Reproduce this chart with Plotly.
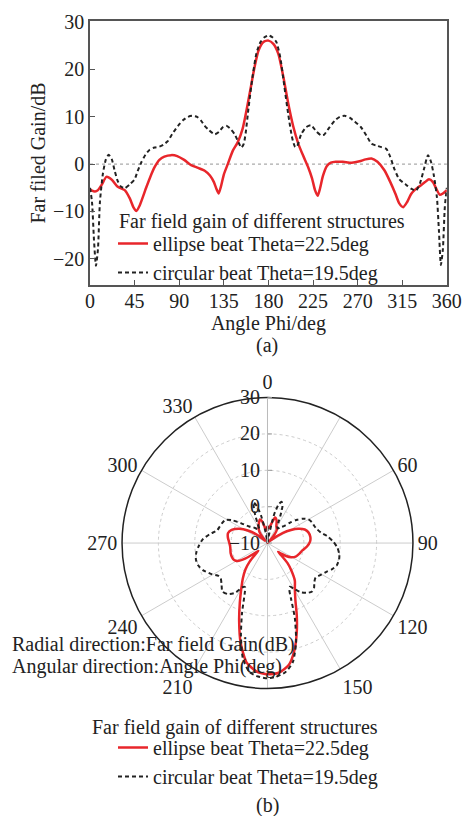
import plotly.graph_objects as go
import numpy as np

# ---- data ----
phi_ellipse = [0, 2, 5, 8, 12, 16.5, 22, 28, 35, 40, 44, 46.7, 50, 56.8, 61, 65, 70, 75, 82, 88, 95, 102,
               109, 115.7, 121, 125, 127.5, 129.8, 132, 135, 139, 144, 149, 154, 158, 162, 166, 170, 175,
               180, 185, 190, 195, 200, 205, 210, 215, 220, 224, 227, 229.7, 232, 235, 239, 243, 248, 255,
               264, 272, 278, 284, 290, 297, 303, 308, 312, 316, 320, 324, 328, 333, 338, 342, 346, 350,
               353, 356, 360]
gain_ellipse = [-5.3, -5.6, -5.8, -5.5, -4.3, -2.7, -3.3, -4.8, -5.5, -7.2, -9.2, -9.9, -8.8, -4.9, -2.6, -0.7,
                0.9, 1.6, 1.9, 1.7, 0.9, -0.2, -0.8, -1.4, -2.4, -3.8, -5.2, -6.2, -4.8, -2.2, 0.0, 2.8,
                4.6, 7.5, 11.5, 16.0, 20.5, 24.0, 25.8, 26.1, 25.4, 23.3, 18.5, 12.8, 8.0, 4.4, 1.8, -0.6,
                -3.0, -5.5, -6.7, -5.2, -2.5, -0.4, 0.3, 0.5, 0.5, 0.3, 0.6, 1.0, 1.2, 0.5, -1.3, -3.8,
                -6.2, -8.3, -9.1, -8.0, -6.3, -5.4, -4.6, -3.8, -3.2, -3.8, -5.5, -6.5, -6.2, -5.5]

phi_circular = [0, 2, 4, 6, 8, 10, 13, 16, 18.8, 22, 25, 28, 31, 35, 40, 45, 48, 51.8, 56, 60, 65, 70, 74,
                78.7, 83, 88.8, 94, 99, 103, 108, 112, 115.7, 120, 125.8, 130, 134, 137.5, 141, 146, 150,
                152.7, 155, 157, 160, 164, 168, 172, 176, 180, 184, 188, 192, 196, 200, 204, 207, 209,
                213, 218, 223, 228, 233, 236, 241, 247, 252, 257, 262, 267, 273, 279, 284, 289, 294, 299,
                303, 307, 312, 318, 324, 329, 333, 337, 341, 344, 347, 350, 352, 354, 356, 358, 360]
gain_circular = [-5.0, -8.0, -16.0, -21.5, -18.0, -8.0, -2.0, 1.0, 2.0, 1.0, -1.5, -3.6, -4.7, -5.1, -4.3,
                 -3.2, -1.5, 0.4, 2.0, 3.0, 3.5, 3.7, 4.1, 4.9, 6.4, 8.1, 9.3, 10.0, 10.2, 10.0, 9.2, 8.1,
                 7.2, 6.3, 6.8, 7.8, 8.1, 7.6, 6.3, 4.5, 3.5, 4.2, 6.5, 12.0, 18.5, 23.5, 25.8, 26.8,
                 27.2, 26.8, 25.8, 22.5, 16.5, 10.5, 5.5, 3.6, 3.8, 6.3, 7.8, 8.2, 7.0, 6.1, 6.2, 7.6, 9.2,
                 10.0, 10.2, 9.8, 9.0, 7.9, 6.0, 4.3, 3.9, 3.6, 3.2, 1.5, -1.0, -3.2, -4.2, -5.2, -5.6,
                 -4.0, -1.0, 1.9, 0.5, -2.5, -7.0, -14.0, -21.3, -18.0, -9.0, -5.0]

names = ["ellipse beat Theta=22.5deg", "circular beat Theta=19.5deg"]
legend_title = "Far field gain of different structures"
x_ticks = list(range(0, 361, 45))
y_ticks = [-20, -10, 0, 10, 20, 30]
ang_ticks = list(range(0, 360, 30))
ang_labels = ["0", "", "60", "90", "120", "150", "", "210", "240", "270", "300", "330"]
r_ticks = [-10, 0, 10, 20, 30]

FONT = "Liberation Serif"
RED = "#e8262b"
BLK = "#222222"
DASH = "4px,3px"
W, H = 464, 816

fig = go.Figure()

# Cartesian
fig.add_trace(go.Scatter(x=phi_ellipse, y=gain_ellipse, mode="lines", name=names[0],
                         line=dict(color=RED, width=2.5, shape="spline", smoothing=0.6), legend="legend"))
fig.add_trace(go.Scatter(x=phi_circular, y=gain_circular, mode="lines", name=names[1],
                         line=dict(color=BLK, width=2, dash=DASH, shape="spline", smoothing=0.6),
                         legend="legend"))

# Polar (values below the radial range are held at the centre)
fig.add_trace(go.Scatterpolar(theta=phi_ellipse, r=np.maximum(gain_ellipse, -10), mode="lines",
                              name=names[0], line=dict(color=RED, width=2.5, shape="spline", smoothing=0.6),
                              legend="legend2", subplot="polar"))
fig.add_trace(go.Scatterpolar(theta=phi_circular, r=np.maximum(gain_circular, -10), mode="lines",
                              name=names[1], line=dict(color=BLK, width=2, dash=DASH, shape="spline",
                                                        smoothing=0.6),
                              legend="legend2", subplot="polar"))

fig.add_hline(y=0, line=dict(color="#aaaaaa", width=1.2, dash="dot"), layer="below")

axis_common = dict(showline=True, linecolor="#555555", linewidth=1.5, mirror=True, ticks="inside",
                   ticklen=5, tickcolor="#555555", showgrid=False, zeroline=False, automargin=False,
                   tickfont=dict(family=FONT, size=20, color="#222"))


def note(text, x, y, xanchor="center"):
    return dict(text=text, x=x / W, y=1 - y / H, xref="paper", yref="paper", xanchor=xanchor,
                yanchor="middle", showarrow=False, font=dict(family=FONT, size=20, color="#222"))


fig.update_layout(
    width=W, height=H,
    margin=dict(l=0, r=0, t=0, b=0, autoexpand=False),
    paper_bgcolor="white", plot_bgcolor="white",
    font=dict(family=FONT, size=20, color="#222"),
    xaxis=dict(domain=[0.194, 0.963], range=[0, 360], tickvals=x_ticks, ticklabelstandoff=-3,
               title=dict(text="Angle Phi/deg", font=dict(family=FONT, size=20), standoff=0),
               **axis_common),
    yaxis=dict(domain=[0.651, 0.974], range=[-25.5, 30.2], tickvals=y_ticks,
               title=dict(text="Far filed Gain/dB", font=dict(family=FONT, size=20), standoff=2),
               **axis_common),
    polar=dict(
        domain=dict(x=[0.263, 0.890], y=[0.156, 0.513]),
        bgcolor="white",
        angularaxis=dict(rotation=90, direction="clockwise", tickvals=ang_ticks, ticktext=ang_labels,
                         showline=True, linecolor="#222", linewidth=1.5, ticks="",
                         gridcolor="#cccccc", gridwidth=1,
                         tickfont=dict(family=FONT, size=20, color="#222")),
        radialaxis=dict(range=[-10, 30], tickvals=r_ticks, angle=90, tickangle=90, showline=True,
                        linecolor="#bbbbbb", linewidth=1, ticks="inside", ticklen=4, tickcolor="#999",
                        gridcolor="#cccccc", griddash="dot", gridwidth=1, side="counterclockwise",
                        tickfont=dict(family=FONT, size=20, color="#222")),
    ),
    legend=dict(x=113 / W, y=1 - 224 / H, xanchor="left", yanchor="top", bgcolor="rgba(0,0,0,0)",
                font=dict(family=FONT, size=20), tracegroupgap=0, itemwidth=30),
    legend2=dict(x=113 / W, y=1 - 728 / H, xanchor="left", yanchor="top", bgcolor="rgba(0,0,0,0)",
                 font=dict(family=FONT, size=20), tracegroupgap=0, itemwidth=30),
    annotations=[
        note(legend_title, 117, 222, "left"),
        note(legend_title, 90, 727, "left"),
        note("(a)", 267, 345),
        note("(b)", 267, 805),
        note("Radial direction:Far field Gain(dB)", 10, 644, "left"),
        note("Angular direction:Angle Phi(deg)", 10, 666, "left"),
    ],
    showlegend=True,
)

fig.write_html("out.html", config={"displayModeBar": False},
               post_script="document.body.style.margin='0px';")
